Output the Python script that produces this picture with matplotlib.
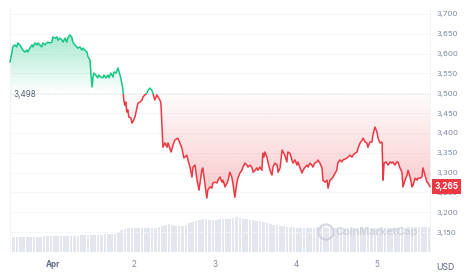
import numpy as np
import matplotlib
matplotlib.use("Agg")
import matplotlib.pyplot as plt
from matplotlib.patches import Polygon, Rectangle, Circle
from matplotlib.colors import to_rgb

# ---------------- data ----------------
# hours relative to Apr 1 00:00
hours = [-12.7,-12.1,-11.9,-11.3,-10.7,-10.4,-9.8,-9.2,-8.9,-8.3,-7.7,-7.4,-6.8,-6.2,-5.9,-5.3,-4.7,-4.4,-3.9,-3.3,
         -3.0,-2.4,-1.8,-1.5,-0.9,-0.3,0.0,0.6,1.2,1.5,2.1,2.7,3.0,3.6,4.1,4.4,5.0,5.6,5.9,6.5,
         7.1,7.4,8.0,8.6,8.9,9.5,10.1,10.4,11.0,11.3,11.6,11.9,12.1,12.7,13.3,13.6,14.2,14.8,15.1,15.7,
         16.3,16.6,17.2,17.8,18.1,18.7,19.3,19.6,20.1,20.7,21.0,21.3,21.6,21.9,22.2,22.5,23.1,23.4,23.7,24.3,
         24.9,25.2,25.8,26.4,26.7,27.3,27.9,28.1,28.7,29.3,29.6,30.2,30.8,31.1,31.7,32.0,32.3,32.6,33.2,33.8,
         34.1,35.0,35.6,36.1,37.0,37.6,38.2,38.5,38.8,39.7,40.0,40.6,41.2,41.5,42.1,42.7,43.3,44.1,44.4,45.0,
         45.6,45.9,46.5,47.1,47.4,48.0,48.6,48.9,49.5,50.1,50.4,51.0,51.6,51.9,52.4,53.0,53.3,53.9,54.5,54.8,
         55.4,56.0,56.3,56.9,57.5,57.8,58.4,59.0,59.3,59.9,60.4,60.7,61.3,61.9,62.2,62.5,62.8,63.4,63.7,64.3,
         64.9,65.2,65.8,66.4,66.7,67.3,67.9,68.2,68.7,69.3,69.6,70.2,70.8,71.1,71.7,72.3,72.6,73.2,73.8,74.1,
         74.7,75.3,75.6,76.1,76.7,77.0,77.6,78.2,78.5,79.1,79.7,80.0,80.6,81.2,81.5,82.1,82.7,83.0,83.6,84.1,
         84.4,85.0,85.6,85.9,86.5,87.1,87.4,88.0,88.6,88.9,89.5,90.1,90.4,91.0,91.6,91.9,92.5,93.0,93.3,93.9,
         94.5,94.8,95.4,96.0,96.3,96.9,97.5,97.8,98.1,98.7,99.3,99.9,100.4,100.7,101.3,101.9,102.2,102.8,103.4,103.7,
         104.3,104.9,105.2,105.8,106.4,106.7,107.3,107.9,108.1,108.7,109.3,109.6,110.2,110.8,111.1,111.7]

prices = [3579,3604,3617,3622,3617,3627,3622,3614,3609,3604,3609,3604,3614,3622,3617,3627,3622,3627,3622,3617,
          3627,3622,3627,3629,3627,3629,3642,3639,3642,3634,3639,3634,3629,3639,3629,3639,3647,3642,3629,3622,
          3617,3614,3617,3609,3614,3609,3604,3592,3584,3546,3516,3541,3551,3546,3539,3546,3541,3539,3546,3539,
          3546,3539,3551,3541,3554,3551,3564,3554,3539,3513,3483,3470,3478,3453,3458,3440,3438,3425,3428,3440,
          3463,3475,3478,3483,3491,3496,3501,3506,3513,3508,3501,3483,3496,3491,3483,3475,3420,3364,3375,3364,
          3375,3352,3370,3382,3387,3375,3362,3349,3337,3344,3332,3314,3289,3314,3319,3281,3256,3306,3312,3274,
          3236,3256,3264,3261,3274,3276,3274,3281,3289,3276,3281,3264,3274,3281,3301,3289,3274,3238,3274,3286,
          3299,3306,3314,3324,3319,3314,3319,3312,3301,3306,3312,3306,3314,3306,3349,3339,3352,3339,3327,3306,
          3294,3314,3324,3319,3301,3312,3357,3352,3344,3327,3352,3349,3332,3324,3332,3319,3327,3312,3299,3306,
          3314,3319,3314,3324,3319,3314,3324,3327,3332,3324,3312,3281,3276,3281,3261,3281,3286,3289,3299,3306,
          3324,3332,3327,3332,3334,3337,3339,3344,3339,3344,3349,3352,3362,3375,3382,3387,3377,3375,3364,3377,
          3377,3395,3415,3402,3387,3375,3377,3281,3324,3327,3319,3327,3324,3327,3319,3327,3327,3312,3301,3264,
          3281,3294,3306,3289,3264,3269,3286,3281,3286,3286,3289,3312,3294,3276,3274,3265]

baseline_price = 3498
last_price = 3265

vol_hours = list(range(-12, 112))
volumes = [15,15,15,15,15,15,15,15,
           15,16,16,16,16,16,16,16,16,16,
           16,16,17,17,17,17,17,17,
           17,18,18,18,18,
           20,22,23,
           24,24,24,24,24,24,24,24,24,25,
           26,27,28,27,26,26,
           26,27,29,30,31,32,
           33,33,32,32,32,33,33,33,33,34,
           35,34,33,
           33,32,32,31,31,
           30,29,28,27,27,26,26,25,
           25,25,24,24,24,24,24,24,25,25,
           25,24,24,24,24,24,24,24,24,24,
           24,24,24,24,24,24,24,24,24,24,
           24,24,24,24,24,25,25,25,25,25,
           25,25]

y_ticks = [3150,3200,3250,3300,3350,3400,3450,3500,3550,3600,3650,3700]
x_tick_pos = [0, 24, 48, 72, 96]
x_tick_labels = ["Apr", "2", "3", "4", "5"]

# ---------------- figure ----------------
GREEN = "#16c784"
RED = "#ea3943"
FONT = ["Inter", "DejaVu Sans"]
plt.rcParams["font.family"] = FONT

W, H = 474, 279
fig = plt.figure(figsize=(W / 100, H / 100), dpi=100)
rect = [10 / W, 1 - 252 / H, 420 / W, 244 / H]

x = np.array(hours, dtype=float)
y = np.array(prices, dtype=float)
xmin, xmax = -12.7, 111.7
ymin, ymax = 3100, 3715

# volume axes (behind)
axv = fig.add_axes(rect, zorder=0)
axv.bar(vol_hours, volumes, width=0.78, color="#e3e6ef", edgecolor="none", align="edge")
axv.set_xlim(xmin, xmax)
axv.set_ylim(0, 244)
axv.axis("off")

# price axes
ax = fig.add_axes(rect, zorder=1)
ax.patch.set_alpha(0)
ax.set_xlim(xmin, xmax)
ax.set_ylim(ymin, ymax)

for t in y_ticks:
    ax.axhline(t, color="#f4f5f7", lw=0.6, zorder=0)


def grad_fill(yclip, color, a_low, a_high, ylo, yhi):
    verts = [(x[0], baseline_price)] + list(zip(x, yclip)) + [(x[-1], baseline_price)]
    poly = Polygon(verts, closed=True, facecolor="none", edgecolor="none")
    ax.add_patch(poly)
    grad = np.zeros((256, 1, 4))
    grad[:, :, :3] = to_rgb(color)
    grad[:, 0, 3] = np.linspace(a_low, a_high, 256)
    im = ax.imshow(grad, extent=[xmin, xmax, ylo, yhi], origin="lower",
                   aspect="auto", interpolation="bilinear", zorder=1)
    im.set_clip_path(poly)


grad_fill(np.maximum(y, baseline_price), GREEN, 0.0, 0.38, baseline_price, y.max())
grad_fill(np.minimum(y, baseline_price), RED, 0.28, 0.02, y.min(), baseline_price)

ax.axhline(baseline_price, color="#c9ced9", lw=0.6, ls=(0, (1, 2)), zorder=2)

lg, = ax.plot(x, y, color=GREEN, lw=1.1, zorder=3, solid_joinstyle="round")
lr, = ax.plot(x, y, color=RED, lw=1.1, zorder=3, solid_joinstyle="round")
lg.set_clip_path(Rectangle((xmin - 50, baseline_price), 300, 1000, transform=ax.transData))
lr.set_clip_path(Rectangle((xmin - 50, baseline_price - 1000), 300, 1000, transform=ax.transData))

ax.set_xlim(xmin, xmax)
ax.set_ylim(ymin, ymax)

# frame
for s in ["top", "bottom"]:
    ax.spines[s].set_visible(False)
for s in ["left", "right"]:
    ax.spines[s].set_color("#f0f1f4")
    ax.spines[s].set_linewidth(0.6)

ax.yaxis.tick_right()
ax.set_yticks(y_ticks)
ax.set_yticklabels([f"{v:,}" for v in y_ticks])
ax.tick_params(axis="y", length=0, pad=4.5, labelsize=5.6, labelcolor="#808a9d")
ax.set_xticks(x_tick_pos)
ax.set_xticklabels(x_tick_labels)
ax.tick_params(axis="x", length=0, pad=5.5, labelsize=5.8, labelcolor="#808a9d")
ax.get_xticklabels()[0].set_fontweight("bold")
ax.get_xticklabels()[0].set_color("#616e85")

# baseline label
ax.text(xmin + 0.9, baseline_price, f"{baseline_price:,}", fontsize=5.8, color="#58667e",
        va="center", ha="left", zorder=4)

# last price tag
ax.annotate(f"{last_price:,}", xy=(1.0, last_price), xycoords=("axes fraction", "data"),
            xytext=(3.2, 0), textcoords="offset points", ha="left", va="center",
            fontsize=6.0, color="white", fontweight="bold",
            bbox=dict(boxstyle="square,pad=0.35", fc=RED, ec="none"), zorder=6,
            annotation_clip=False)

# USD label
fig.text(436 / W, 1 - 267 / H, "USD", fontsize=6.3, color="#58667e", ha="left", va="center")

# watermark
wm_color = "#c7ccd8"
fig.text(336 / W, 1 - 232 / H, "CoinMarketCap", fontsize=7.8, fontweight="bold",
         color=wm_color, alpha=0.75, ha="left", va="center", zorder=5)
logo = Circle((326 / W, 1 - 232 / H), 0.017, transform=fig.transFigure, fill=False,
              ec=wm_color, lw=1.6, alpha=0.75, zorder=5)
logo.set_transform(fig.dpi_scale_trans)
logo.center = (326 / 100, (H - 232) / 100)
logo.radius = 0.075
fig.add_artist(logo)

fig.savefig("out.png", dpi=100, facecolor="white")
